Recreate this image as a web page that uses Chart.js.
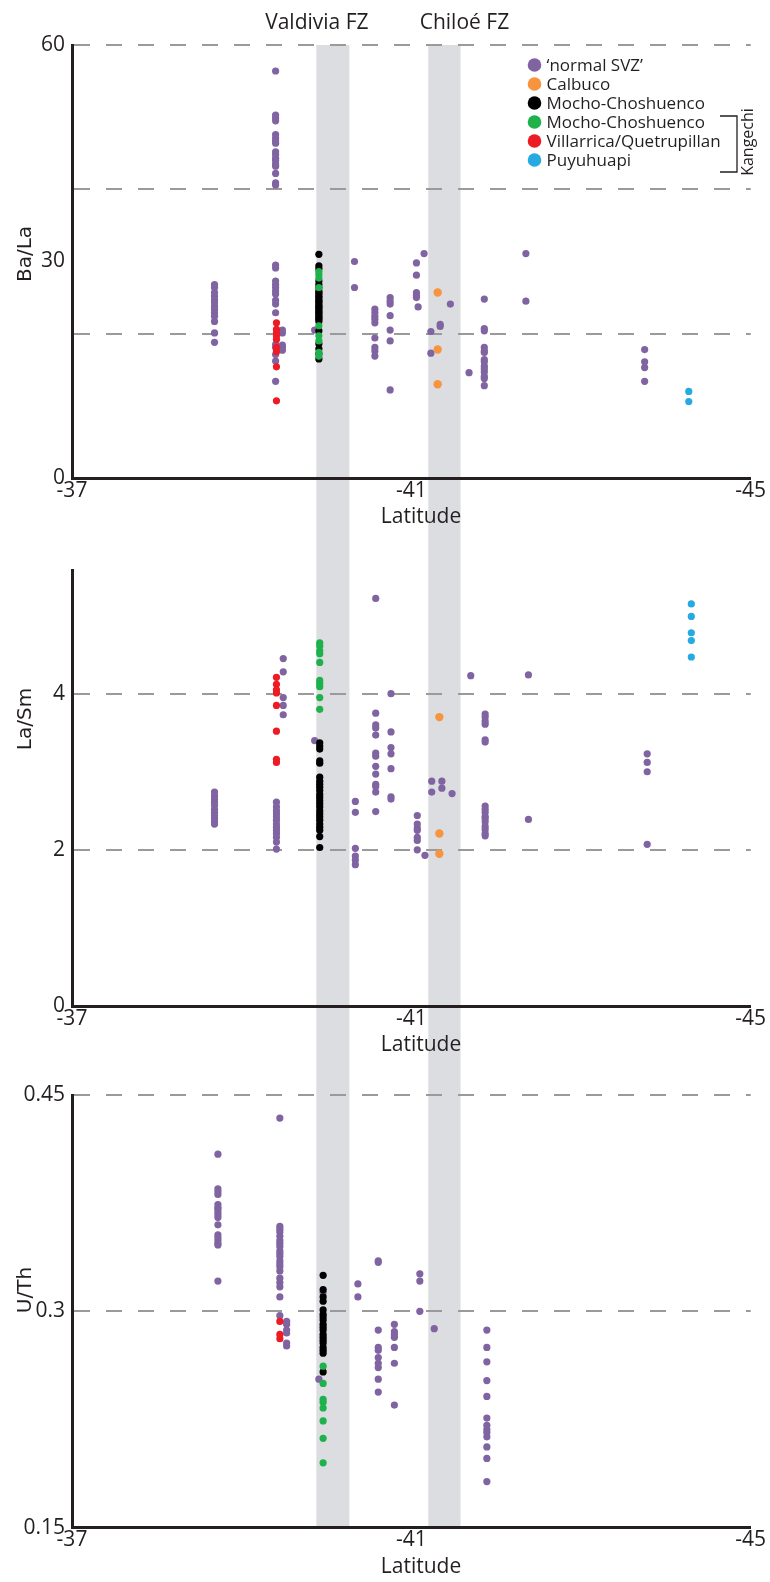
<!DOCTYPE html>
<html>
<head>
<meta charset="utf-8">
<script src="https://cdn.jsdelivr.net/npm/chart.js@4.4.1/dist/chart.umd.min.js"></script>
<style>
  body { margin: 0; background: #fff; }
  canvas { position: absolute; left: 0; }
</style>
</head>
<body>
<canvas id="baLa" width="770" height="530" style="top:0"></canvas>
<canvas id="laSm" width="770" height="530" style="top:530px"></canvas>
<canvas id="uTh" width="770" height="522" style="top:1060px"></canvas>
<script>
// groups, in legend order
var groupNames = ['\u2018normal SVZ\u2019', 'Calbuco', 'Mocho-Choshuenco', 'Mocho-Choshuenco', 'Villarrica/Quetrupillan', 'Puyuhuapi'];
var groupColors = ['#8064a2', '#f7943d', '#000000', '#1fb14b', '#ed1c24', '#27aae1'];
var latTicks = [-37, -41, -45];
// fracture zones (latitude ranges)
var fzNames = ['Valdivia FZ', 'Chilo\u00e9 FZ'];
var fzBands = [[-39.88, -40.27], [-41.20, -41.58]];

// each entry: [latitude, [values...]]
// Ba/La
var baLaSvz = [
  [-38.68, [26.8, 26.4, 25.7, 25.2, 24.7, 24.3, 23.8, 23.4, 22.9, 22.4, 21.7, 20.1, 18.8]],
  [-39.40, [56.4, 50.3, 49.9, 49.5, 47.6, 47.1, 46.7, 46.4, 45.2, 44.8, 44.3, 44.0, 43.5, 43.2, 42.2, 40.9, 40.6,
            29.5, 29.1, 27.3, 26.8, 26.4, 25.9, 25.5, 24.6, 24.1, 22.9, 18.5, 18.1, 17.1, 16.2, 13.4]],
  [-39.48, [20.5, 20.1, 18.4, 18.1, 17.7]],
  [-39.86, [20.5]],
  [-40.33, [30.0, 26.4]],
  [-40.57, [23.4, 22.9, 22.4, 22.0, 21.5, 19.4, 18.1, 17.6, 16.9]],
  [-40.75, [25.0, 24.5, 24.1, 22.5, 20.5, 19.0, 12.2]],
  [-41.06, [29.8, 28.1, 25.7, 25.3, 25.0]],
  [-41.08, [23.7]],
  [-41.15, [31.1]],
  [-41.23, [20.3, 17.3]],
  [-41.34, [21.3, 21.0]],
  [-41.46, [24.1]],
  [-41.68, [14.6]],
  [-41.86, [24.8, 20.7, 20.4, 18.1, 17.6, 17.4, 16.4, 16.1, 15.5, 15.1, 14.7, 14.1, 13.8, 12.8]],
  [-42.35, [31.1, 24.5]],
  [-43.75, [17.8, 16.1, 15.3, 13.4]]
];
var baLaCalbuco = [[-41.31, [25.7, 17.8, 13.0]]];
var baLaMocho = [[-39.91, [31.0, 29.4, 29.0, 27.3, 26.8, 26.4, 25.9, 25.7, 25.5, 25.2, 25.0, 24.7, 24.5, 24.3, 24.0,
                           23.8, 23.6, 23.4, 23.1, 22.9, 22.7, 22.4, 22.2, 22.0, 21.7, 20.4, 18.6, 17.9, 17.2, 16.5]]];
var baLaMochoK = [[-39.91, [28.6, 28.2, 27.7, 26.4, 21.1, 19.7, 19.0, 17.4, 16.9]]];
var baLaVillarrica = [[-39.41, [21.5, 20.6, 20.1, 19.7, 19.2, 18.1, 17.5, 15.4, 10.7]]];
var baLaPuyuhuapi = [[-44.27, [12.0, 10.6]]];

// La/Sm
var laSmSvz = [
  [-38.68, [2.74, 2.69, 2.65, 2.61, 2.57, 2.52, 2.48, 2.44, 2.40, 2.36, 2.33]],
  [-39.41, [2.61, 2.55, 2.50, 2.46, 2.42, 2.38, 2.33, 2.29, 2.25, 2.21, 2.16, 2.10, 2.01]],
  [-39.49, [4.45, 4.28, 3.95, 3.85, 3.73]],
  [-39.86, [3.40]],
  [-40.34, [2.62, 2.48, 2.02, 1.92, 1.87, 1.81]],
  [-40.58, [5.22, 3.75, 3.60, 3.56, 3.47, 3.24, 3.20, 3.07, 2.97, 2.84, 2.81, 2.74, 2.49]],
  [-40.76, [4.00, 3.51, 3.31, 3.23, 3.04, 2.68, 2.65]],
  [-41.07, [2.44, 2.33, 2.28, 2.25, 2.16, 2.12, 2.00]],
  [-41.16, [1.93]],
  [-41.24, [2.88, 2.74]],
  [-41.36, [2.88, 2.79]],
  [-41.48, [2.72]],
  [-41.70, [4.23]],
  [-41.87, [3.74, 3.70, 3.65, 3.61, 3.41, 3.38, 2.56, 2.52, 2.48, 2.43, 2.40, 2.36, 2.30, 2.26, 2.21, 2.18]],
  [-42.38, [4.24, 2.39]],
  [-43.78, [3.23, 3.12, 3.00, 2.07]]
];
var laSmCalbuco = [[-41.33, [3.70, 2.21, 1.95]]];
var laSmMocho = [[-39.92, [3.37, 3.33, 3.29, 3.14, 3.11, 2.93, 2.88, 2.84, 2.80, 2.76, 2.71, 2.67, 2.63, 2.59, 2.55,
                           2.50, 2.46, 2.42, 2.38, 2.33, 2.29, 2.25, 2.17, 2.03]]];
var laSmMochoK = [[-39.92, [4.65, 4.61, 4.55, 4.51, 4.40, 4.17, 4.13, 4.09, 3.95, 3.80]]];
var laSmVillarrica = [[-39.41, [4.21, 4.12, 4.05, 4.01, 3.85, 3.52, 3.16, 3.12]]];
var laSmPuyuhuapi = [[-44.30, [5.15, 4.99, 4.78, 4.68, 4.47]]];

// U/Th
var uThSvz = [
  [-38.72, [0.409, 0.385, 0.383, 0.381, 0.374, 0.372, 0.371, 0.369, 0.367, 0.365, 0.360, 0.353, 0.351, 0.349, 0.347, 0.346, 0.321]],
  [-39.45, [0.434, 0.359, 0.357, 0.355, 0.352, 0.349, 0.347, 0.345, 0.342, 0.340, 0.338, 0.335, 0.333, 0.331, 0.328,
            0.323, 0.320, 0.317, 0.310, 0.297]],
  [-39.53, [0.293, 0.291, 0.287, 0.285, 0.278, 0.276]],
  [-39.91, [0.253]],
  [-39.96, [0.313]],
  [-40.37, [0.319, 0.310]],
  [-40.61, [0.335, 0.334, 0.287, 0.275, 0.273, 0.268, 0.264, 0.261, 0.253, 0.244]],
  [-40.80, [0.291, 0.286, 0.284, 0.282, 0.275, 0.264, 0.235]],
  [-41.10, [0.326, 0.321, 0.300]],
  [-41.27, [0.288]],
  [-41.89, [0.287, 0.275, 0.265, 0.252, 0.241, 0.226, 0.221, 0.218, 0.216, 0.213, 0.206, 0.198, 0.182]]
];
var uThCalbuco = [];
var uThMocho = [[-39.96, [0.325, 0.315, 0.310, 0.307, 0.301, 0.298, 0.296, 0.294, 0.291, 0.289, 0.287, 0.284, 0.282,
                          0.280, 0.278, 0.275, 0.273, 0.271, 0.258]]];
var uThMochoK = [[-39.96, [0.262, 0.250, 0.239, 0.237, 0.233, 0.224, 0.212, 0.195]]];
var uThVillarrica = [[-39.45, [0.293, 0.284, 0.281]]];
var uThPuyuhuapi = [];

var ink = '#231f20';
var tickFont = { family: 'Open Sans', size: 21 };
var drawOrder = [6, 5, 3, 2, 1, 4];

function points(cols) {
  var out = [];
  cols.forEach(function (c) {
    c[1].forEach(function (v) { out.push({ x: c[0], y: v }); });
  });
  return out;
}

// grey fracture-zone bands, axis titles, legend
var decor = {
  id: 'decor',
  beforeDraw: function (chart, args, opts) {
    var ctx = chart.ctx, xs = chart.scales.x;
    var top = opts.first ? chart.chartArea.top : 0;
    var bottom = opts.last ? chart.chartArea.bottom : chart.height;
    ctx.save();
    ctx.fillStyle = '#dcdde0';
    fzBands.forEach(function (b) {
      var a = xs.getPixelForValue(b[0]), c = xs.getPixelForValue(b[1]);
      ctx.fillRect(Math.min(a, c), top, Math.abs(c - a), bottom - top);
    });
    ctx.restore();
  },
  afterDraw: function (chart, args, opts) {
    var ctx = chart.ctx, xs = chart.scales.x, area = chart.chartArea;
    ctx.save();
    ctx.fillStyle = ink;
    // x title
    ctx.font = '21px "Open Sans"';
    ctx.textAlign = 'center';
    ctx.textBaseline = 'middle';
    ctx.fillText('Latitude', 421, area.bottom + 39);
    // y title
    ctx.save();
    ctx.translate(26, opts.yTitleY);
    ctx.rotate(-Math.PI / 2);
    ctx.font = '20px "DejaVu Sans"';
    ctx.fillText(opts.yTitle, 0, 0);
    ctx.restore();

    if (opts.first) {
      // fracture zone names
      ctx.font = '21px "Open Sans"';
      ctx.textBaseline = 'alphabetic';
      var shift = [-16, 20];
      fzBands.forEach(function (b, i) {
        var cx = (xs.getPixelForValue(b[0]) + xs.getPixelForValue(b[1])) / 2 + shift[i];
        ctx.fillText(fzNames[i], cx, 28.5);
      });
      // legend
      ctx.font = '17px "Open Sans"';
      ctx.textAlign = 'left';
      ctx.textBaseline = 'middle';
      chart.data.datasets.forEach(function (ds, i) {
        var y = 65 + i * 19;
        ctx.fillStyle = ds.backgroundColor;
        ctx.beginPath();
        ctx.arc(534.5, y, 6.8, 0, Math.PI * 2);
        ctx.fill();
        ctx.fillStyle = ink;
        ctx.fillText(ds.label, 546.5, y + 1);
      });
      // Kangechi bracket
      ctx.strokeStyle = ink;
      ctx.lineWidth = 1.3;
      ctx.beginPath();
      ctx.moveTo(720, 116);
      ctx.lineTo(737, 116);
      ctx.lineTo(737, 172);
      ctx.lineTo(720, 172);
      ctx.stroke();
      ctx.translate(748, 142);
      ctx.rotate(-Math.PI / 2);
      ctx.font = '16px "Open Sans"';
      ctx.textAlign = 'center';
      ctx.fillText('Kangechi', 0, 0);
    }
    ctx.restore();
  }
};

function makePanel(id, groups, cfg) {
  var canvas = document.getElementById(id);
  var H = canvas.height;
  var datasets = groups.map(function (g, i) {
    return {
      label: groupNames[i],
      data: points(g),
      backgroundColor: groupColors[i],
      borderColor: groupColors[i],
      borderWidth: 0,
      pointRadius: i === 1 ? 4.2 : 3.6,
      order: drawOrder[i]
    };
  });
  return new Chart(canvas.getContext('2d'), {
    type: 'scatter',
    data: { datasets: datasets },
    plugins: [decor],
    options: {
      responsive: false,
      animation: false,
      layout: { autoPadding: false, padding: { top: cfg.top, right: 19.3, bottom: 0, left: 0 } },
      plugins: {
        legend: { display: false },
        tooltip: { enabled: false },
        decor: { first: !!cfg.first, last: !!cfg.last, yTitle: cfg.yTitle, yTitleY: cfg.yTitleY }
      },
      scales: {
        x: {
          type: 'linear',
          min: -45, max: -37, reverse: true,
          afterFit: function (s) { s.height = H - cfg.bottom; },
          afterBuildTicks: function (s) { s.ticks = latTicks.map(function (v) { return { value: v }; }); },
          grid: { display: false, drawTicks: false },
          border: { display: true, color: ink, width: 3 },
          ticks: { color: ink, font: tickFont, padding: 0, maxRotation: 0 }
        },
        y: {
          type: 'linear',
          min: cfg.yMin, max: cfg.yMax,
          afterFit: function (s) { s.width = 72; },
          afterBuildTicks: function (s) { s.ticks = cfg.yTicks.map(function (v) { return { value: v }; }); },
          grid: {
            drawTicks: false,
            lineWidth: 2,
            color: function (c) { return cfg.yGrid.indexOf(c.tick.value) >= 0 ? '#9a9a9a' : 'rgba(0,0,0,0)'; }
          },
          border: { display: true, color: ink, width: 3, dash: [16, 16] },
          ticks: {
            color: ink, font: tickFont, padding: 7,
            callback: function (v) { return cfg.yLabels.indexOf(v) >= 0 ? String(v) : ''; }
          }
        }
      }
    }
  });
}

makePanel('baLa', [baLaSvz, baLaCalbuco, baLaMocho, baLaMochoK, baLaVillarrica, baLaPuyuhuapi], {
  yMin: 0, yMax: 60, yTicks: [0, 20, 30, 40, 60], yLabels: [0, 30, 60], yGrid: [20, 40, 60],
  top: 45, bottom: 478, yTitle: 'Ba/La', yTitleY: 254, first: true
});
makePanel('laSm', [laSmSvz, laSmCalbuco, laSmMocho, laSmMochoK, laSmVillarrica, laSmPuyuhuapi], {
  yMin: 0, yMax: 5.575, yTicks: [0, 2, 4], yLabels: [0, 2, 4], yGrid: [2, 4],
  top: 40.7, bottom: 476, yTitle: 'La/Sm', yTitleY: 189
});
makePanel('uTh', [uThSvz, uThCalbuco, uThMocho, uThMochoK, uThVillarrica, uThPuyuhuapi], {
  yMin: 0.15, yMax: 0.45, yTicks: [0.15, 0.3, 0.45], yLabels: [0.15, 0.3, 0.45], yGrid: [0.3, 0.45],
  top: 35, bottom: 467.7, yTitle: 'U/Th', yTitleY: 230, last: true
});
</script>
</body>
</html>
